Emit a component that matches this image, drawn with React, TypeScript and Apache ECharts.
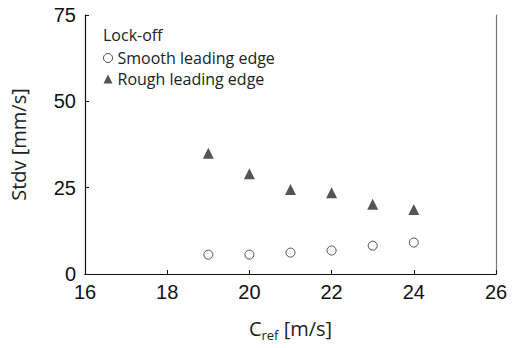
import React, { useEffect, useRef } from "react";
import * as echarts from "echarts";

const cref = [19, 20, 21, 22, 23, 24];
const smooth = [5.6, 5.6, 6.2, 6.8, 8.2, 9.1];
const rough = [35, 29, 24.5, 23.5, 20.2, 18.7];
const xTicks = { min: 16, max: 26, interval: 2 };
const yTicks = { min: 0, max: 75, interval: 25 };

export default function App() {
  const ref = useRef<HTMLDivElement>(null);
  useEffect(() => {
    const chart = echarts.init(ref.current!, null, { renderer: "svg" });
    const tickFont = { fontFamily: "Liberation Sans", fontSize: 20, color: "#111" };
    chart.setOption({
      animation: false,
      backgroundColor: "#fff",
      grid: { left: 85, right: 24, top: 15, bottom: 74, outerBoundsMode: "none", containLabel: false },
      legend: {
        orient: "vertical",
        left: 103,
        top: 48,
        itemWidth: 9,
        itemHeight: 9,
        itemGap: 1,
        padding: 0,
        textStyle: { fontFamily: "Open Sans", fontSize: 16, lineHeight: 20, color: "#222" },
        data: [
          { name: "Smooth leading edge", icon: "circle", itemStyle: { color: "#fff", borderColor: "#222", borderWidth: 1 } },
          { name: "Rough leading edge", icon: "triangle" },
        ],
      },
      graphic: [
        {
          type: "text",
          left: 103,
          top: 27,
          style: { text: "Lock-off", fontFamily: "Open Sans", fontSize: 16, fill: "#222" },
        },
      ],
      xAxis: [
        {
          type: "value",
          ...xTicks,
          name: "{c|C}{s|ref}{c| [m/s]}",
          nameLocation: "middle",
          nameGap: 42,
          nameTextStyle: {
            rich: {
              c: { fontFamily: "Open Sans", fontSize: 20, color: "#222" },
              s: { fontFamily: "Open Sans", fontSize: 13, color: "#222", verticalAlign: "bottom", padding: [12, 0, 0, 0] },
            },
          },
          axisLine: { show: true, lineStyle: { color: "#111", width: 1.2 } },
          axisTick: { show: true, inside: true, length: 4, lineStyle: { color: "#111" } },
          axisLabel: { ...tickFont, margin: 8 },
          splitLine: { show: false },
        },
        {
          type: "value",
          ...xTicks,
          position: "top",
          axisLine: { show: true, lineStyle: { color: "#111", width: 1 } },
          axisTick: { show: false },
          axisLabel: { show: false },
          splitLine: { show: false },
        },
      ],
      yAxis: [
        {
          type: "value",
          ...yTicks,
          name: "Stdv [mm/s]",
          nameLocation: "middle",
          nameGap: 57,
          nameTextStyle: { fontFamily: "Open Sans", fontSize: 20, color: "#222" },
          axisLine: { show: true, lineStyle: { color: "#111", width: 1.2 } },
          axisTick: { show: true, inside: true, length: 4, lineStyle: { color: "#111" } },
          axisLabel: { ...tickFont, margin: 9 },
          splitLine: { show: false },
        },
        {
          type: "value",
          ...yTicks,
          position: "right",
          axisLine: { show: true, lineStyle: { color: "#777", width: 1.2 } },
          axisTick: { show: false },
          axisLabel: { show: false },
          splitLine: { show: false },
        },
      ],
      series: [
        {
          name: "Smooth leading edge",
          type: "scatter",
          symbol: "circle",
          symbolSize: 9,
          itemStyle: { color: "#fff", borderColor: "#222", borderWidth: 1 },
          data: cref.map((c, i) => [c, smooth[i]]),
        },
        {
          name: "Rough leading edge",
          type: "scatter",
          symbol: "triangle",
          symbolSize: 11,
          itemStyle: { color: "#2a2a2a" },
          data: cref.map((c, i) => [c, rough[i]]),
        },
      ],
    });
    return () => chart.dispose();
  }, []);
  return <div ref={ref} style={{ position: "fixed", left: 0, top: 0, width: 520, height: 348 }} />;
}
